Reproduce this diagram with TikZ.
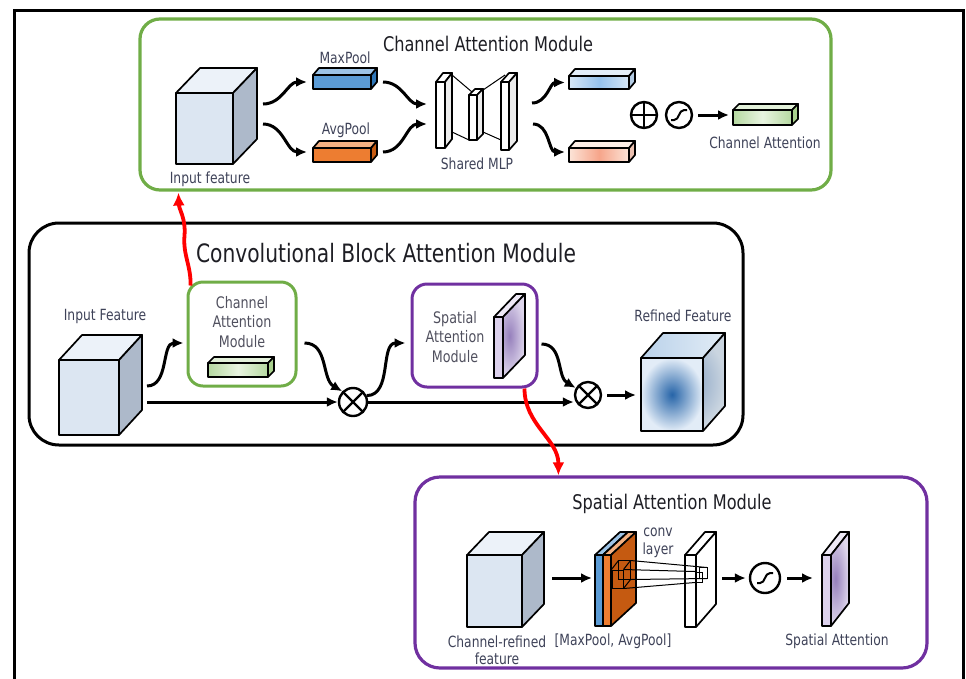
\documentclass[tikz,border=0pt]{standalone}
\usepackage{fontspec}
\setmainfont{DejaVu Sans}[FakeStretch=0.8]
\usetikzlibrary{arrows.meta,calc}

\definecolor{cgreen}{RGB}{112,173,71}
\definecolor{cpurple}{RGB}{112,48,160}
\definecolor{labc}{RGB}{62,66,88}
\definecolor{boxtext}{RGB}{80,80,94}
\definecolor{ttlc}{RGB}{30,30,36}
\definecolor{cubefront}{RGB}{220,230,242}
\definecolor{cubetop}{RGB}{236,242,249}
\definecolor{cubeside}{RGB}{173,185,202}

% cuboid: name, x, y (top-left of front face), width, height, depth dx, depth dy, style family
\newcommand{\cuboid}[8]{%
  \path[#8 top] (#2,#3) -- ++(#4,0) -- ++(#6,-#7) -- ++(-#4,0) -- cycle;
  \path[#8 side] (#2,#3) ++(#4,0) -- ++(#6,-#7) -- ++(0,#5) -- ++(-#6,#7) -- cycle;
  \node[#8 front, anchor=north west, minimum width=#4pt, minimum height=#5pt] (#1) at (#2,#3) {};
}

\tikzset{
  edge/.style={draw=black, line width=1.7pt, line join=round},
  nodeface/.style={edge, inner sep=0, outer sep=0},
  cube front/.style={nodeface, fill=cubefront},
  cube top/.style={edge, fill=cubetop},
  cube side/.style={edge, fill=cubeside},
  maxbar front/.style={nodeface, fill={rgb,255:red,91;green,155;blue,213}},
  maxbar top/.style={edge, fill={rgb,255:red,157;green,195;blue,230}},
  maxbar side/.style={edge, fill={rgb,255:red,46;green,117;blue,182}},
  avgbar front/.style={nodeface, fill={rgb,255:red,237;green,125;blue,49}},
  avgbar top/.style={edge, fill={rgb,255:red,244;green,177;blue,131}},
  avgbar side/.style={edge, fill={rgb,255:red,197;green,90;blue,17}},
  blubar front/.style={nodeface, left color={rgb,255:red,214;green,230;blue,246}, right color={rgb,255:red,214;green,230;blue,246}, middle color={rgb,255:red,150;green,194;blue,236}},
  blubar top/.style={edge, fill={rgb,255:red,227;green,238;blue,249}},
  blubar side/.style={edge, fill={rgb,255:red,180;green,204;blue,228}},
  salbar front/.style={nodeface, left color={rgb,255:red,252;green,228;blue,216}, right color={rgb,255:red,252;green,228;blue,216}, middle color={rgb,255:red,246;green,165;blue,138}},
  salbar top/.style={edge, fill={rgb,255:red,253;green,238;blue,230}},
  salbar side/.style={edge, fill={rgb,255:red,235;green,192;blue,176}},
  grnbar front/.style={nodeface, left color={rgb,255:red,181;green,216;blue,160}, right color={rgb,255:red,181;green,216;blue,160}, middle color={rgb,255:red,232;green,244;blue,224}},
  grnbar top/.style={edge, fill={rgb,255:red,226;green,240;blue,217}},
  grnbar side/.style={edge, fill={rgb,255:red,169;green,209;blue,142}},
  spslab front/.style={nodeface, fill={rgb,255:red,220;green,209;blue,236}},
  spslab top/.style={edge, fill={rgb,255:red,238;green,233;blue,246}},
  spslab side/.style={edge, inner color={rgb,255:red,150;green,128;blue,188}, outer color={rgb,255:red,222;green,214;blue,236}},
  refd front/.style={nodeface, inner color={rgb,255:red,38;green,100;blue,168}, outer color={rgb,255:red,226;green,236;blue,247}},
  refd top/.style={edge, left color={rgb,255:red,186;green,210;blue,234}, right color={rgb,255:red,226;green,236;blue,246}},
  refd side/.style={edge, inner color={rgb,255:red,122;green,152;blue,190}, outer color={rgb,255:red,202;green,213;blue,224}},
  conv front/.style={nodeface, fill=white},
  conv top/.style={edge, fill=white},
  conv side/.style={edge, fill=white},
  mlp front/.style={nodeface, fill=white},
  mlp top/.style={edge, fill=white},
  mlp side/.style={edge, fill={rgb,255:red,236;green,236;blue,236}},
  lab/.style={inner sep=0, text=labc, font=\fontsize{15.4}{17.5}\selectfont, align=center},
  boxlab/.style={inner sep=0, text=boxtext, font=\fontsize{15.9}{19.5}\selectfont, align=center},
  ttl/.style={inner sep=0, text=ttlc, font=\fontsize{20.2}{23}\selectfont},
  thinl/.style={draw=black, line width=1pt},
  arr/.style={draw=black, line width=3pt, -{Latex[length=11pt,width=10pt]}},
  redarr/.style={draw=red, line width=3.8pt, -{Latex[length=13pt,width=12pt]}},
  op/.style={circle, draw=black, line width=2.4pt, minimum size=26pt, inner sep=0, fill=white},
  otimes/.style={op, path picture={\draw[line width=2.2pt]
      (path picture bounding box.north west) -- (path picture bounding box.south east)
      (path picture bounding box.north east) -- (path picture bounding box.south west);}},
  oplus/.style={op, path picture={\draw[line width=2.2pt]
      (path picture bounding box.north) -- (path picture bounding box.south)
      (path picture bounding box.east) -- (path picture bounding box.west);}},
  sigm/.style={op, path picture={\draw[line width=2pt]
      ([shift={(-8pt,-5pt)}]path picture bounding box.center) -- ++(3pt,0)
      to[out=0,in=180] ++(10pt,10pt) -- ++(3pt,0);}},
}

\begin{document}
\begin{tikzpicture}[x=1pt,y=-1pt]
\useasboundingbox (0,0) rectangle (966,678);

% page frame
\draw[line width=3pt] (14,700) -- (14,10.5) -- (963.5,10.5) -- (963.5,700);

% ---------- Channel attention module ----------
\node[draw=cgreen, line width=3.2pt, rounded corners=20pt, minimum width=691pt, minimum height=171pt, inner sep=0] (cam) at (485.5,104.5) {};
\node[ttl] (camt) at (488,44) {Channel Attention Module};
\cuboid{inA}{176}{93}{57}{71}{24}{25}{cube}
\node[lab] (inAl) at (210,179) {Input feature};
\cuboid{maxp}{313}{75}{58}{14}{6}{7}{maxbar}
\node[lab] (maxpl) at (345,58) {MaxPool};
\cuboid{avgp}{313}{148}{58}{14}{6}{7}{avgbar}
\node[lab] (avgpl) at (346,130) {AvgPool};

% shared MLP
\cuboid{mlpL}{436}{82}{9}{66}{7}{9}{mlp}
\cuboid{mlpM}{469}{95}{8}{45}{6}{6}{mlp}
\cuboid{mlpR}{501}{82}{8}{68}{8}{9}{mlp}
\draw[thinl] ($(mlpL.north east)+(7,-7)$) -- ($(mlpM.north west)+(3,-3)$);
\draw[thinl] ($(mlpM.north east)+(6,-5)$) -- ($(mlpR.north west)+(4,-7)$);
\draw[thinl] ($(mlpL.south east)+(7,-16)$) -- (mlpM.south west);
\draw[thinl] ($(mlpM.south east)+(6,-8)$) -- ($(mlpR.south west)+(0,-10)$);
\node[lab] (mlpl) at (477,164) {Shared MLP};

\draw[arr] ($(inA.east)+(30,-24.5)$) to[out=0,in=180] ($(maxp.west)+(-6,0)$);
\draw[arr] ($(inA.east)+(30,-4.5)$) to[out=0,in=180] ($(avgp.west)+(-6,-3)$);
\draw[arr] ($(maxp.east)+(12,0)$) to[out=0,in=180] ($(mlpL.west)+(-9,-11)$);
\draw[arr] ($(avgp.east)+(12,-3)$) to[out=0,in=180] ($(mlpL.west)+(-9,9)$);

\cuboid{outB}{569}{76}{60}{13}{6}{7}{blubar}
\cuboid{outS}{569}{148}{60}{14}{6}{7}{salbar}
\draw[arr] ($(mlpR.east)+(23,-13)$) to[out=0,in=180] ($(outB.west)+(-4,0)$);
\draw[arr] ($(mlpR.east)+(24,8)$) to[out=0,in=180] ($(outS.west)+(-4,-3)$);

\node[oplus] (plus) at (644,115) {};
\node[sigm] (sig1) at (679,115) {};
\cuboid{chA}{733}{110}{59}{15}{6}{6}{grnbar}
\draw[arr] ($(sig1.east)+(5,0)$) -- ($(chA.west)+(-4,-2.5)$);
\node[lab] (chAl) at (765,143) {Channel Attention};

% ---------- CBAM overview ----------
\node[draw=black, line width=3pt, rounded corners=30pt, minimum width=714pt, minimum height=222pt, inner sep=0] (cbam) at (386,334) {};
\node[inner sep=0, text=ttlc, font=\fontsize{25.3}{28}\selectfont] (cbamt) at (386,253) {Convolutional Block Attention Module};
\cuboid{inB}{59}{360}{60}{75}{23}{25}{cube}
\node[lab] (inBl) at (105,316) {Input Feature};

\node[draw=cgreen, line width=3pt, rounded corners=15pt, minimum width=108pt, minimum height=104pt, inner sep=0] (camS) at (242,334) {};
\node[boxlab] (camSt) at (242,322) {Channel\\Attention\\Module};
\cuboid{chB}{208}{363}{60}{14}{6}{6}{grnbar}

\node[otimes, minimum size=28pt] (ot1) at (353,402) {};
\draw[arr] ($(inB.east)+(28,-11.5)$) to[out=0,in=180] ($(camS.west)+(-3,9)$);
\draw[arr] ($(camS.east)+(7,9)$) to[out=0,in=150] (ot1.135);
\draw[arr] ($(inB.east |- ot1.west)+(28,0)$) -- (ot1.west);

\node[draw=cpurple, line width=3pt, rounded corners=15pt, minimum width=125pt, minimum height=103pt, inner sep=0] (samS) at (474.5,335.5) {};
\node[boxlab] (samSt) at (455,337) {Spatial\\Attention\\Module};
\cuboid{spB}{494}{317}{9}{61}{22}{23}{spslab}
\draw[arr] (ot1.25) to[out=0,in=180] ($(samS.west)+(-5,7.5)$);

\node[otimes, minimum size=26pt] (ot2) at (588,395) {};
\draw[arr] (ot1.east) -- (ot1.east -| ot2.west);
\draw[arr] ($(samS.east)+(3,8.5)$) to[out=0,in=150] (ot2.150);
\cuboid{refF}{641}{358}{62}{73}{22}{25}{refd}
\draw[arr] ($(ot2.east)+(5,0)$) -- ($(ot2.east -| refF.west)+(-5,0)$);
\node[lab] (refl) at (683,316) {Refined Feature};

% ---------- Spatial attention module ----------
\node[draw=cpurple, line width=3.2pt, rounded corners=25pt, minimum width=512pt, minimum height=191pt, inner sep=0] (sam) at (671,572.5) {};
\node[ttl] (samt) at (672,504) {Spatial Attention Module};
\cuboid{chR}{467}{555}{55}{72}{22}{23}{cube}
\node[lab] (chRl) at (497,650) {Channel-refined\\feature};

\cuboid{poolB}{595}{555}{8}{71}{25}{23}{maxbar}
\cuboid{poolO}{603}{555}{8}{71}{25}{23}{avgbar}
\node[lab] (poolL) at (613,641) {[MaxPool, AvgPool]};

% convolution kernel on the pooled maps
\node[draw=black, line width=1pt, minimum width=11pt, minimum height=18pt, inner sep=0] (kern) at (617.5,579) {};
\draw[thinl] ($(kern.north west)+(7,-9)$) rectangle ($(kern.south east)+(7,-9)$);
\draw[thinl] (kern.north west) -- ++(7,-9) (kern.north east) -- ++(7,-9) (kern.south east) -- ++(7,-9);

\cuboid{convL}{685}{555}{11}{72}{20}{23}{conv}
\node[lab] (convl) at (658,543) {conv\\layer};
\node[draw=black, line width=1pt, minimum width=7pt, minimum height=10pt, inner sep=0] (tiny) at (699,577) {};
\draw[thinl] ($(tiny.north west)+(4,-4)$) rectangle ($(tiny.south east)+(4,-4)$);
\draw[thinl] ($(kern.north east)+(7,-9)$) -- ($(tiny.north east)+(4,-4)$);
\draw[thinl] (kern.north east) -- (tiny.north west);
\draw[thinl] ($(kern.south east)+(7,-9)$) -- ($(tiny.south east)+(4,-4)$);
\draw[thinl] (kern.south east) -- (tiny.south west);

\node[sigm, minimum size=30pt] (sig2) at (765,578) {};
\cuboid{spA}{822}{555}{9}{71}{18}{23}{spslab}
\node[lab] (spAl) at (837,641) {Spatial Attention};

\draw[arr] ($(chR.east)+(30,-13)$) -- ($(poolB.west)+(-3,-12.5)$);
\draw[arr] ($(convL.east)+(26,-13)$) -- ($(sig2.west)+(-3,0)$);
\draw[arr] ($(sig2.east)+(6,0)$) -- ($(spA.west)+(-9,-12.5)$);

% ---------- links to the detailed modules ----------
\draw[redarr] ($(camS.north west)+(4,5)$) to[out=88,in=-95] ($(camS.north west)+(-2,-45)$)
  to[out=85,in=-88] ($(cam.south west)+(40,1)$);
\draw[redarr] ($(samS.south east)+(-14,0)$) to[out=-90,in=90] ($(sam.north west)+(145,0)$);
\end{tikzpicture}
\end{document}
